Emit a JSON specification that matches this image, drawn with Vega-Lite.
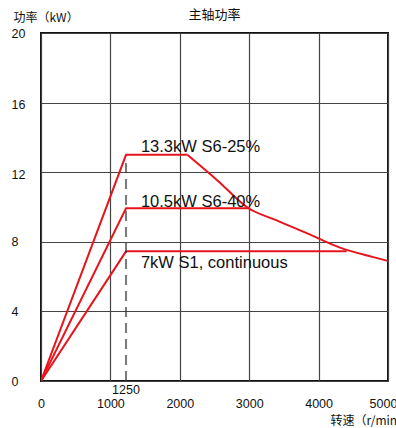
{
  "$schema": "https://vega.github.io/schema/vega-lite/v6.json",
  "width": 347,
  "height": 348,
  "autosize": {"type": "none"},
  "padding": {"left": 41, "top": 33, "right": 8, "bottom": 47},
  "background": "white",
  "title": {"text": "主轴功率", "font": "Noto Sans CJK SC", "fontSize": 13, "fontWeight": "normal", "color": "#111", "anchor": "middle", "frame": "group", "baseline": "middle", "offset": -17},
  "config": {
    "view": {"stroke": "#111", "strokeWidth": 2},
    "axis": {"domain": false, "ticks": false, "tickSize": 0, "grid": true, "gridColor": "#444", "gridWidth": 1.2, "gridOpacity": 1, "labelFont": "Liberation Sans", "labelFontSize": 12.5, "labelColor": "#111", "titleColor": "#111"}
  },
  "datasets": {
    "curves": [
      {"series": "S6-25% rise", "ord": 1, "x": 0, "y": 0},
      {"series": "S6-25% rise", "ord": 2, "x": 1225, "y": 13.0},
      {"series": "S6-25% rise", "ord": 3, "x": 2108, "y": 13.0},
      {"series": "S6-40%", "ord": 1, "x": 0, "y": 0},
      {"series": "S6-40%", "ord": 2, "x": 1225, "y": 9.93},
      {"series": "S6-40%", "ord": 3, "x": 2990, "y": 9.93},
      {"series": "S1", "ord": 1, "x": 0, "y": 0},
      {"series": "S1", "ord": 2, "x": 1225, "y": 7.45},
      {"series": "S1", "ord": 3, "x": 4405, "y": 7.45}
    ],
    "falloff": [
      {"ord": 1, "x": 2108, "y": 13.0},
      {"ord": 2, "x": 2550, "y": 11.5},
      {"ord": 3, "x": 2990, "y": 9.93},
      {"ord": 4, "x": 3350, "y": 9.3},
      {"ord": 5, "x": 3830, "y": 8.5},
      {"ord": 6, "x": 4300, "y": 7.68},
      {"ord": 7, "x": 4790, "y": 7.12},
      {"ord": 8, "x": 5000, "y": 6.9}
    ],
    "notes": [
      {"label": "13.3kW S6-25%", "x": 1440, "y": 13.16},
      {"label": "10.5kW S6-40%", "x": 1440, "y": 10.02},
      {"label": "7kW S1, continuous", "x": 1440, "y": 6.49}
    ]
  },
  "layer": [
    {
      "data": {"name": "curves"},
      "mark": {"type": "line", "color": "#e8141c", "strokeWidth": 2, "clip": true},
      "encoding": {
        "x": {"field": "x", "type": "quantitative", "scale": {"domain": [0, 5000], "nice": false},
          "axis": {"values": [0, 1000, 2000, 3000, 4000, 5000], "format": "d", "labelFlush": false, "labelPadding": 22, "labelBaseline": "middle",
            "labelOffset": {"condition": {"test": "datum.value == 5000", "value": -5}, "value": 0},
            "title": "转速（r/min）", "titleFont": "Noto Sans CJK SC", "titleFontSize": 12, "titleFontWeight": "normal", "titleAnchor": null, "titleAlign": "left", "titleBaseline": "middle", "titleX": 289, "titleY": 39}},
        "y": {"field": "y", "type": "quantitative", "scale": {"domain": [0, 20], "nice": false},
          "axis": {"values": [0, 4, 8, 12, 16, 20], "labelPadding": 30, "labelAlign": "left",
            "labelOffset": {"condition": {"test": "datum.value == 16 || datum.value == 12", "value": 2}, "value": 0},
            "title": "功率（kW）", "titleFont": "Noto Sans CJK SC", "titleFontSize": 12, "titleFontWeight": "normal", "titleAngle": 0, "titleAlign": "left", "titleBaseline": "middle", "titleX": -28, "titleY": -16}},
        "detail": {"field": "series"},
        "order": {"field": "ord"}
      }
    },
    {
      "data": {"name": "falloff"},
      "mark": {"type": "line", "color": "#e8141c", "strokeWidth": 2, "clip": true, "interpolate": "monotone"},
      "encoding": {
        "x": {"field": "x", "type": "quantitative"},
        "y": {"field": "y", "type": "quantitative"},
        "order": {"field": "ord"}
      }
    },
    {
      "data": {"values": [{"x": 1225, "y": 0, "y2": 12.6}]},
      "mark": {"type": "rule", "color": "#333", "strokeWidth": 1.3, "strokeDash": [10, 6]},
      "encoding": {"x": {"field": "x", "type": "quantitative"}, "y": {"field": "y", "type": "quantitative"}, "y2": {"field": "y2"}}
    },
    {
      "data": {"values": [{"x": 1225, "y": 0, "label": "1250"}]},
      "mark": {"type": "text", "font": "Liberation Sans", "fontSize": 12.5, "color": "#111", "baseline": "middle", "dy": 9},
      "encoding": {"x": {"field": "x", "type": "quantitative"}, "y": {"field": "y", "type": "quantitative"}, "text": {"field": "label"}}
    },
    {
      "data": {"name": "notes"},
      "mark": {"type": "text", "font": "Liberation Sans", "fontSize": 16.5, "color": "#111", "align": "left", "baseline": "alphabetic"},
      "encoding": {"x": {"field": "x", "type": "quantitative"}, "y": {"field": "y", "type": "quantitative"}, "text": {"field": "label"}}
    }
  ]
}
